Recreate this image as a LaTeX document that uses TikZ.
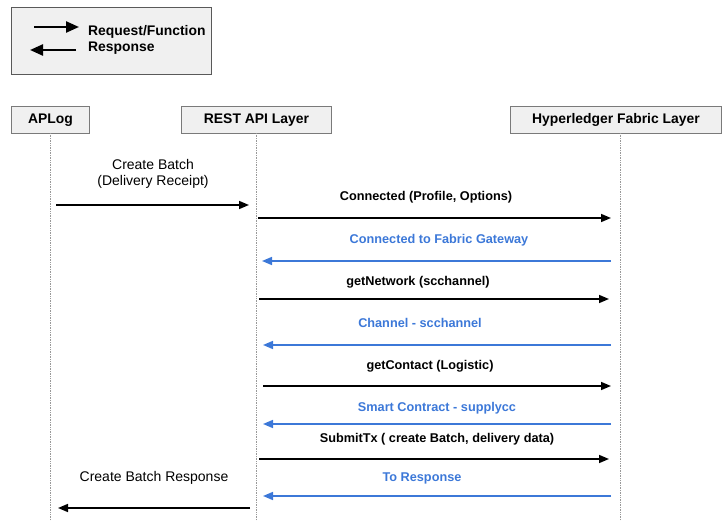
\documentclass[tikz,border=0pt]{standalone}
\usepackage{fontspec}
\setmainfont{Liberation Sans}
\usetikzlibrary{arrows.meta}
\definecolor{gblue}{HTML}{3C78D8}
\definecolor{boxfill}{HTML}{F0F0F0}
\definecolor{boxline}{HTML}{7A7A7A}
\begin{document}
\begin{tikzpicture}[x=1pt,y=-1pt,
  hdr/.style={draw=boxline,fill=boxfill,line width=0.9pt,minimum height=27pt,inner sep=0pt,font=\fontsize{13.9}{16}\selectfont\bfseries,anchor=north west},
  life/.style={draw=gray!80,densely dotted,line width=0.7pt},
  req/.style={draw=black,line width=1.5pt,-{Triangle[length=10pt,width=8pt]}},
  resp/.style={draw=gblue,line width=1.5pt,-{Triangle[length=10pt,width=8pt]}},
  legarrow/.style={draw=black,line width=2.4pt,-{Triangle[length=13pt,width=11pt]}},
  lab/.style={font=\fontsize{12.7}{15}\selectfont\bfseries,inner sep=0pt},
  leglab/.style={font=\fontsize{13.9}{16}\selectfont\bfseries,inner sep=0pt},
  blab/.style={lab,text=gblue},
  nlab/.style={font=\fontsize{14}{16.5}\selectfont,inner sep=0pt,align=center}]
\useasboundingbox (0,0) rectangle (723,521);
% legend
\node[draw=black!65,fill=boxfill,line width=0.9pt,minimum width=200pt,minimum height=67pt,anchor=north west,inner sep=0pt] (legend) at (11,7) {};
\coordinate (l1a) at (34,27); \coordinate (l1b) at (79,27);
\coordinate (l2a) at (76,50); \coordinate (l2b) at (30,50);
\draw[legarrow] (l1a) -- (l1b);
\draw[legarrow] (l2a) -- (l2b);
\node[leglab,anchor=west] (lreq) at (88,32) {Request/Function};
\node[leglab,anchor=west] (lresp) at (88,48.5) {Response};
% headers
\node[hdr,minimum width=78pt] (aplog) at (11,106) {APLog};
\node[hdr,minimum width=150pt] (rest) at (181,106) {REST API Layer};
\node[hdr,minimum width=211pt] (hfl) at (510,106) {Hyperledger Fabric Layer};
% lifelines
\coordinate (aplogx) at (50,133); \coordinate (aplogb) at (50,521);
\coordinate (restx) at (256,133); \coordinate (restb) at (256,521);
\coordinate (hflx) at (620,133); \coordinate (hflb) at (620,521);
\draw[life] (aplogx) -- (aplogb);
\draw[life] (restx) -- (restb);
\draw[life] (hflx) -- (hflb);
% messages
\node[nlab] (m1) at (153,174) {Create Batch\\(Delivery Receipt)};
\coordinate (m1a) at (56,205); \coordinate (m1b) at (249,205);
\draw[req] (m1a) -- (m1b);

\node[lab] (m2) at (426,197) {Connected (Profile, Options)};
\coordinate (m2a) at (258,218); \coordinate (m2b) at (611,218);
\draw[req] (m2a) -- (m2b);

\node[blab] (m3) at (439,240) {Connected to Fabric Gateway};
\coordinate (m3a) at (611,261); \coordinate (m3b) at (262,261);
\draw[resp] (m3a) -- (m3b);

\node[lab] (m4) at (418,282) {getNetwork (scchannel)};
\coordinate (m4a) at (259,299); \coordinate (m4b) at (609,299);
\draw[req] (m4a) -- (m4b);

\node[blab] (m5) at (420,323) {Channel - scchannel};
\coordinate (m5a) at (611,345); \coordinate (m5b) at (263,345);
\draw[resp] (m5a) -- (m5b);

\node[lab] (m6) at (430,366) {getContact (Logistic)};
\coordinate (m6a) at (263,386); \coordinate (m6b) at (611,386);
\draw[req] (m6a) -- (m6b);

\node[blab] (m7) at (437,408) {Smart Contract - supplycc};
\coordinate (m7a) at (611,424); \coordinate (m7b) at (263,424);
\draw[resp] (m7a) -- (m7b);

\node[lab] (m8) at (437,439) {SubmitTx ( create Batch, delivery data)};
\coordinate (m8a) at (259,459); \coordinate (m8b) at (609,459);
\draw[req] (m8a) -- (m8b);

\node[blab] (m9) at (422,478) {To Response};
\coordinate (m9a) at (611,496); \coordinate (m9b) at (263,496);
\draw[resp] (m9a) -- (m9b);

\node[nlab] (m10) at (154,478) {Create Batch Response};
\coordinate (m10a) at (250,508); \coordinate (m10b) at (58,508);
\draw[req] (m10a) -- (m10b);
\end{tikzpicture}
\end{document}
